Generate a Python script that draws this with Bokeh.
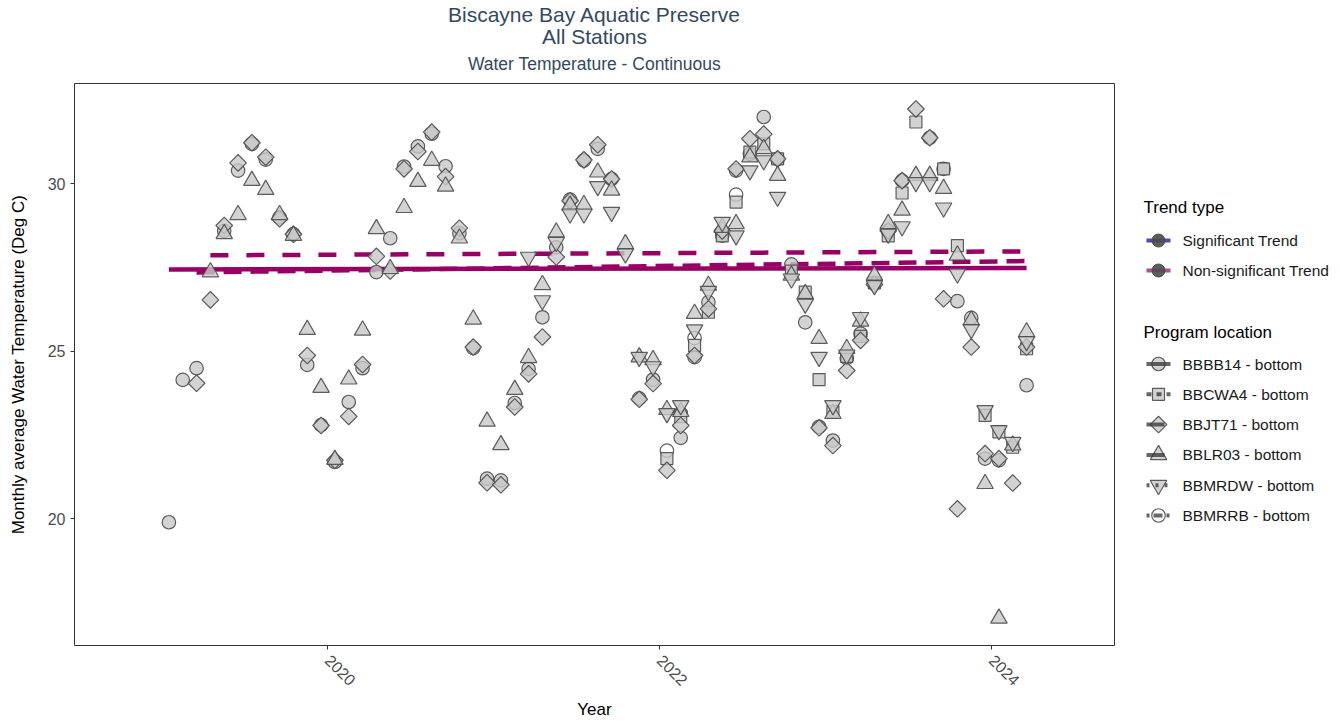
import numpy as np
import pandas as pd
from bokeh.plotting import figure
from bokeh.models import Range1d, FixedTicker
from bokeh.layouts import row, column
from bokeh.embed import file_html
from bokeh.resources import INLINE
from bokeh.core.properties import value

FONT = "Liberation Sans"

# ---- data -----------------------------------------------------------------
MONTHS = pd.period_range("2019-01", "2024-03", freq="M")

STATIONS = ["BBBB14 - bottom", "BBCWA4 - bottom", "BBJT71 - bottom",
            "BBLR03 - bottom", "BBMRDW - bottom", "BBMRRB - bottom"]

# monthly average bottom water temperature (deg C), Jan 2019 .. Mar 2024
BBBB14 = [19.90, 24.15, 24.50, None, 28.60, 30.40, 31.20, 30.73, 29.00, 28.50, 24.60, 22.80,
          21.70, 23.49, 24.50, 27.37, 28.38, 30.52, 31.12, 31.50, 30.53, 28.53, 25.10, 21.20,
          21.15, 23.46, 24.48, 26.02, 28.11, 29.53, 30.70, 31.05, 30.15, None, 23.60, 24.16,
          None, 22.42, 24.83, 26.47, 28.46, 30.40, 30.90, 32.00, 30.75, 27.60, 25.87, 22.75,
          22.34, 24.80, 25.53, 27.05, 28.60, 30.10, None, 31.38, 30.45, 26.50, 26.00, 21.80,
          21.75, None, 23.99]

BBCWA4 = [None] * 36 + [
          21.80, 23.05, 25.18, 26.17, 28.45, 29.46, 30.95, 31.20, 30.75, 27.40, 26.77, 24.16,
          23.20, 24.85, 25.45, 27.05, 28.45, 29.73, 31.85, None, 30.45, 28.16, None, 23.09,
          22.60, 22.14, 25.08]

BBJT71 = [None, None, 24.05, 26.54, 28.76, 30.63, 31.23, 30.80, 28.96, 28.50, 24.88, 22.79,
          21.75, 23.06, 24.61, 27.84, 27.40, 30.45, 30.97, 31.55, 30.22, 28.68, 25.13, 21.08,
          21.02, 23.34, 24.33, 25.43, 27.82, 29.50, 30.72, 31.17, 30.15, None, 23.57, 24.04,
          21.45, 22.79, 24.88, 26.27, 28.60, 30.45, 31.35, 31.49, 30.75, None, None, 22.72,
          22.19, 24.43, 25.33, 27.00, 28.60, 30.10, 32.24, 31.38, 26.57, 20.30, 25.13, 21.95,
          21.80, 21.07, 25.13]

BBLR03 = [None, None, None, 27.37, 28.51, 29.08, 30.10, 29.83, 29.08, 28.46, 25.65, 23.92,
          21.77, 24.17, 25.63, 28.66, 27.47, 29.29, 30.07, 30.70, 29.93, 28.38, 25.96, 22.91,
          22.21, 23.86, 24.81, 26.99, 28.56, 29.36, 29.38, 30.35, 29.81, 28.21, 24.83, 24.75,
          23.26, 23.20, 26.13, 26.97, 28.70, 28.81, 30.80, 31.05, 30.25, 27.27, 26.72, 25.38,
          23.14, 25.08, 25.90, 27.27, 28.81, 29.21, 30.25, 30.25, 29.86, 27.87, 25.93, 21.05,
          17.03, 22.20, 25.58]

BBMRDW = [None] * 26 + [
          27.82, 26.52, 28.26, 29.11, 29.11, 29.93, 29.16, 27.92, 24.83, 24.55,
          23.15, 23.39, 25.65, 26.80, 28.86, 28.46, 30.40, 30.70, 29.61, 27.17, 26.42, 24.83,
          23.39, 24.90, 26.02, 26.97, 28.51, 28.73, 30.05, 30.05, 29.29, 27.32, 25.66, 23.24,
          22.64, 22.29, 25.30]

BBMRRB = [None] * 36 + [22.04, 23.15, 25.40, None, 28.55, 29.68] + [None] * 21

SERIES = {"BBBB14 - bottom": BBBB14, "BBCWA4 - bottom": BBCWA4, "BBJT71 - bottom": BBJT71,
          "BBLR03 - bottom": BBLR03, "BBMRDW - bottom": BBMRDW, "BBMRRB - bottom": BBMRRB}

# Seasonal Kendall trend per station: value at first sample and slope (deg C / yr)
TREND_STATION = ["BBBB14 - bottom", "BBJT71 - bottom", "BBLR03 - bottom"]
TREND_START_VALUE = [27.45, 27.36, 27.87]
TREND_SLOPE = [0.008, 0.068, 0.024]
TREND_SIGNIFICANT = [False, False, False]

TREND_TYPES = ["Significant Trend", "Non-significant Trend"]
TREND_COLORS = {"Significant Trend": "#000099", "Non-significant Trend": "#990066"}

X_TICKS = [2020, 2022, 2024]
Y_TICKS = [20, 25, 30]

TITLE_LINES = ["Biscayne Bay Aquatic Preserve", "All Stations"]
SUBTITLE = "Water Temperature - Continuous"

# ---- styling per station ---------------------------------------------------
MARKER = {"BBBB14 - bottom": ("circle", 0.0, 13.5),
          "BBCWA4 - bottom": ("square", 0.0, 12.0),
          "BBJT71 - bottom": ("square", np.pi / 4, 11.8),
          "BBLR03 - bottom": ("triangle", 0.0, 16.5),
          "BBMRDW - bottom": ("inverted_triangle", 0.0, 16.5),
          "BBMRRB - bottom": ("circle", 0.0, 13.5)}
FILL = {s: "#C8C8C8" for s in STATIONS}
FILL["BBMRRB - bottom"] = "#FFFFFF"
DASH = {"BBBB14 - bottom": "solid", "BBCWA4 - bottom": "5 5",
        "BBJT71 - bottom": "18 9", "BBLR03 - bottom": "18 18",
        "BBMRDW - bottom": "3 6", "BBMRRB - bottom": "3 4 9 4"}

dec_year = np.asarray(MONTHS.year + (MONTHS.month - 0.5) / 12.0, dtype=float)

# page geometry (pixels)
PAGE_W, PAGE_H = 1340, 723
HEADER_H = 82
FRAME_LEFT, FRAME_RIGHT = 74, 1114
FRAME_TOP, FRAME_BOTTOM = 83, 645
PLOT_W = 1130

# ---- header with the titles -------------------------------------------------
header = figure(width=PAGE_W, height=HEADER_H, output_backend="svg",
                toolbar_location=None, x_range=Range1d(0, PAGE_W),
                y_range=Range1d(HEADER_H, 0), x_axis_location=None,
                y_axis_location=None, min_border=0)
header.outline_line_color = None
header.grid.visible = False
header.background_fill_color = "white"
header.border_fill_color = "white"

TITLE_COLOR = "#34495E"
title_x = (FRAME_LEFT + FRAME_RIGHT) / 2
header.text([title_x, title_x], [14, 36], text=TITLE_LINES, text_font=value(FONT),
            text_font_size="21px", text_align="center", text_baseline="middle",
            text_color=TITLE_COLOR)
header.text([title_x], [63.5], text=[SUBTITLE], text_font=value(FONT),
            text_font_size="17.5px", text_align="center", text_baseline="middle",
            text_color=TITLE_COLOR)

# ---- main panel ------------------------------------------------------------
p = figure(width=PLOT_W, height=PAGE_H - HEADER_H, output_backend="svg",
           toolbar_location=None,
           x_range=Range1d(2018.473, 2024.738), y_range=Range1d(16.22, 33.0),
           min_border_left=FRAME_LEFT, min_border_right=PLOT_W - FRAME_RIGHT,
           min_border_top=FRAME_TOP - HEADER_H,
           min_border_bottom=PAGE_H - FRAME_BOTTOM)
p.background_fill_color = "white"
p.border_fill_color = "white"
p.outline_line_color = "#333333"
p.outline_line_width = 1
p.xgrid.grid_line_color = None
p.ygrid.grid_line_color = None

for ax in (p.xaxis[0], p.yaxis[0]):
    ax.axis_line_color = None
    ax.major_tick_line_color = "#333333"
    ax.major_tick_out = 4
    ax.major_tick_in = 0
    ax.minor_tick_out = 0
    ax.minor_tick_in = 0
    ax.major_label_text_font = FONT
    ax.major_label_text_font_size = "16px"
    ax.major_label_text_color = "#4D4D4D"
    ax.axis_label_text_font = FONT
    ax.axis_label_text_font_size = "17px"
    ax.axis_label_text_font_style = "normal"
    ax.axis_label_text_color = "#000000"

p.xaxis.ticker = FixedTicker(ticks=X_TICKS)
p.yaxis.ticker = FixedTicker(ticks=Y_TICKS)
p.xaxis.major_label_orientation = -np.pi / 4
p.xaxis.axis_label = "Year"
p.yaxis.axis_label = "Monthly average Water Temperature (Deg C)"
p.xaxis.axis_label_standoff = 6
p.yaxis.axis_label_standoff = 17
p.xaxis.major_label_standoff = 8
p.yaxis.major_label_standoff = 5

# trend lines (drawn beneath the points)
for st, v0, slope, sig in zip(TREND_STATION, TREND_START_VALUE, TREND_SLOPE, TREND_SIGNIFICANT):
    vals = np.array(SERIES[st], dtype=float)
    ok = ~np.isnan(vals)
    x0, x1 = dec_year[ok][0], dec_year[ok][-1]
    color = TREND_COLORS["Significant Trend" if sig else "Non-significant Trend"]
    p.line([x0, x1], [v0, v0 + slope * (x1 - x0)], line_color=color,
           line_width=4.5, line_dash=DASH[st], line_cap="butt")

# monthly points
for st in ["BBMRRB - bottom", "BBBB14 - bottom", "BBCWA4 - bottom",
           "BBJT71 - bottom", "BBLR03 - bottom", "BBMRDW - bottom"]:
    vals = np.array(SERIES[st], dtype=float)
    ok = ~np.isnan(vals)
    marker, angle, size = MARKER[st]
    p.scatter(dec_year[ok], vals[ok], marker=marker, angle=angle, size=size,
              fill_color=FILL[st], fill_alpha=0.8, line_color="#4D4D4D",
              line_alpha=0.9, line_width=1.2)

# ---- legend column ---------------------------------------------------------
# y range matches the frame rows so that legend positions read as page pixels
leg = figure(width=PAGE_W - PLOT_W, height=PAGE_H - HEADER_H, output_backend="svg",
             toolbar_location=None, x_range=Range1d(0, PAGE_W - PLOT_W),
             y_range=Range1d(FRAME_BOTTOM, FRAME_TOP),
             x_axis_location=None, y_axis_location=None, min_border=0)
leg.outline_line_color = None
leg.grid.visible = False
leg.background_fill_color = "white"
leg.border_fill_color = "white"

KEY_X0, KEY_X1, KEY_XM, TEXT_X, HEAD_X = 16, 40, 28, 52, 13

leg.text([HEAD_X], [207], text=["Trend type"], text_font=value(FONT),
         text_font_size="17px", text_baseline="middle", text_color="#000000")
for i, tt in enumerate(TREND_TYPES):
    yy = 240 + 30 * i
    leg.segment([KEY_X0], [yy], [KEY_X1], [yy], line_color=TREND_COLORS[tt],
                line_alpha=0.7, line_width=4)
    leg.scatter([KEY_XM], [yy], marker="circle", size=13, fill_color="#4D4D4D",
                fill_alpha=0.9, line_color="#4D4D4D")
    leg.text([TEXT_X], [yy], text=[tt], text_font=value(FONT), text_font_size="15.5px",
             text_baseline="middle", text_color="#1A1A1A")

leg.text([HEAD_X], [331.5], text=["Program location"], text_font=value(FONT),
         text_font_size="17px", text_baseline="middle", text_color="#000000")
for i, st in enumerate(STATIONS):
    yy = 363.5 + 30.3 * i
    marker, angle, size = MARKER[st]
    leg.scatter([KEY_XM], [yy], marker=marker, angle=angle, size=size,
                fill_color=FILL[st], fill_alpha=0.8, line_color="#4D4D4D",
                line_alpha=0.9, line_width=1.2)
    leg.segment([KEY_X0], [yy], [KEY_X1], [yy], line_color="#333333", line_alpha=0.75,
                line_width=4, line_dash=DASH[st])
    leg.text([TEXT_X], [yy], text=[st], text_font=value(FONT), text_font_size="15.5px",
             text_baseline="middle", text_color="#1A1A1A")

layout = column(header, row(p, leg, spacing=0), spacing=0)
open("out.html", "w").write(file_html(layout, INLINE))
